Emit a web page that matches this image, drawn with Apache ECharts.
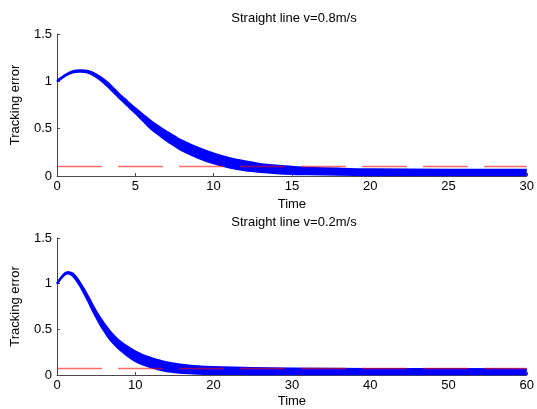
<!DOCTYPE html>
<html>
<head>
<meta charset="utf-8">
<script src="https://cdn.jsdelivr.net/npm/echarts@6/dist/echarts.min.js"></script>
<style>
html,body{margin:0;padding:0;background:#fff;}
#chart{width:537px;height:409px;}
</style>
</head>
<body>
<div id="chart"></div>
<script>
// ---- Data ----
var topTitle = "Straight line v=0.8m/s";
var bottomTitle = "Straight line v=0.2m/s";
var xName = "Time";
var yName = "Tracking error";

// Top panel: upper / lower envelope of the tracking-error band
var topTime  = [0, 0.5, 1, 1.5, 2, 2.5, 3, 3.5, 4, 4.5, 5, 5.5, 6, 6.5, 7, 7.5, 8, 9, 10, 11, 12, 13, 14, 15, 16, 18, 20, 25, 30];
var topUpper = [1.005, 1.065, 1.106, 1.118, 1.11, 1.074, 1.018, 0.946, 0.86, 0.788, 0.715, 0.648, 0.58, 0.524, 0.468, 0.42, 0.373, 0.298, 0.238, 0.19, 0.156, 0.128, 0.11, 0.098, 0.088, 0.078, 0.071, 0.067, 0.067];
var topLower = [0.995, 1.055, 1.094, 1.102, 1.09, 1.046, 0.982, 0.904, 0.82, 0.742, 0.665, 0.582, 0.50, 0.436, 0.372, 0.32, 0.268, 0.193, 0.133, 0.09, 0.06, 0.042, 0.03, 0.022, 0.018, 0.012, 0.009, 0.009, 0.009];
var topThreshold = 0.1;
var topXTicks = [0, 5, 10, 15, 20, 25, 30];

// Bottom panel
var botTime  = [0, 0.5, 1, 1.4, 2, 2.5, 3, 3.5, 4, 4.5, 5, 5.5, 6, 6.5, 7, 7.5, 8, 9, 10, 11, 12, 13, 14, 15, 16, 18, 20, 25, 30, 40, 60];
var botUpper = [1.005, 1.066, 1.113, 1.129, 1.113, 1.067, 1.005, 0.934, 0.858, 0.776, 0.699, 0.628, 0.566, 0.509, 0.455, 0.411, 0.373, 0.31, 0.258, 0.218, 0.188, 0.162, 0.14, 0.125, 0.112, 0.095, 0.087, 0.077, 0.071, 0.066, 0.063];
var botLower = [0.995, 1.054, 1.098, 1.111, 1.088, 1.034, 0.965, 0.887, 0.803, 0.714, 0.631, 0.553, 0.484, 0.421, 0.365, 0.319, 0.278, 0.21, 0.153, 0.113, 0.083, 0.059, 0.04, 0.03, 0.022, 0.015, 0.012, 0.009, 0.009, 0.008, 0.008];
var botThreshold = 0.07;
var botXTicks = [0, 10, 20, 30, 40, 50, 60];

var yTicks = [0, 0.5, 1, 1.5];

// ---- Styles ----
var FONT = 'Liberation Sans, Arial, sans-serif';
var BLUE = '#0000ff';
var RED = 'rgba(255,0,0,0.58)';
var AXIS = '#4a4a4a';

function xAxisCfg(gi, ticks, gap) {
  return {
    type: 'value', gridIndex: gi,
    min: ticks[0], max: ticks[ticks.length - 1], interval: ticks[1] - ticks[0],
    name: xName, nameLocation: 'middle', nameGap: gap,
    nameTextStyle: { fontFamily: FONT, fontSize: 13, color: '#000' },
    axisLine: { show: true, onZero: false, lineStyle: { color: AXIS, width: 1 } },
    axisTick: { show: true, inside: true, length: 3, lineStyle: { color: AXIS } },
    axisLabel: { fontFamily: FONT, fontSize: 13, color: '#000', margin: 4 },
    splitLine: { show: false }
  };
}
function yAxisCfg(gi) {
  return {
    type: 'value', gridIndex: gi,
    min: yTicks[0], max: yTicks[yTicks.length - 1], interval: yTicks[1] - yTicks[0],
    name: yName, nameLocation: 'middle', nameGap: 35, nameRotate: 90,
    nameTextStyle: { fontFamily: FONT, fontSize: 13, color: '#000' },
    axisLine: { show: true, onZero: false, lineStyle: { color: AXIS, width: 1 } },
    axisTick: { show: true, inside: true, length: 3, lineStyle: { color: AXIS } },
    axisLabel: { fontFamily: FONT, fontSize: 13, color: '#000', margin: 5 },
    splitLine: { show: false }
  };
}

// Band drawn as a closed smoothed polygon: upper envelope forward, lower envelope back.
function bandSeries(gi, xs, up, lo) {
  return {
    type: 'custom', xAxisIndex: gi, yAxisIndex: gi, silent: true, z: 3,
    data: [[xs[0], up[0]]],
    renderItem: function (params, api) {
      var upperPts = xs.map(function (x, i) { return api.coord([x, up[i]]); });
      var lowerPts = xs.map(function (x, i) { return api.coord([x, lo[i]]); });
      var cs = params.coordSys;
      var cons = [[cs.x, cs.y], [cs.x + cs.width, cs.y + cs.height]];
      return {
        type: 'group',
        children: [
          { type: 'polygon', shape: { points: upperPts.concat(lowerPts.slice().reverse()), smooth: 0.3, smoothConstraint: cons },
            style: { fill: BLUE, stroke: null } },
          { type: 'polyline', shape: { points: upperPts, smooth: 0.3, smoothConstraint: cons },
            style: { stroke: BLUE, lineWidth: 2, fill: null } },
          { type: 'polyline', shape: { points: lowerPts, smooth: 0.3, smoothConstraint: cons },
            style: { stroke: BLUE, lineWidth: 2, fill: null } }
        ]
      };
    }
  };
}
function thresholdSeries(gi, ticks, val) {
  return {
    type: 'line', xAxisIndex: gi, yAxisIndex: gi,
    data: [[ticks[0], val], [ticks[ticks.length - 1], val]],
    symbol: 'none', silent: true,
    lineStyle: { color: RED, width: 1.5, type: [45, 16] }, z: 5
  };
}

var chart = echarts.init(document.getElementById('chart'), null, { renderer: 'canvas' });
chart.setOption({
  animation: false,
  backgroundColor: '#fff',
  grid: [
    { left: 57, right: 6, top: 34, height: 142, containLabel: false },
    { left: 57, right: 6, top: 238, height: 140, containLabel: false }
  ],
  xAxis: [xAxisCfg(0, topXTicks, 22), xAxisCfg(1, botXTicks, 20)],
  yAxis: [yAxisCfg(0), yAxisCfg(1)],
  graphic: [
    { type: 'text', x: 294, y: 18, style: { text: topTitle, font: '13px ' + FONT, fill: '#000', textAlign: 'center', textVerticalAlign: 'middle' } },
    { type: 'text', x: 294, y: 222, style: { text: bottomTitle, font: '13px ' + FONT, fill: '#000', textAlign: 'center', textVerticalAlign: 'middle' } }
  ],
  series: [
    bandSeries(0, topTime, topUpper, topLower),
    thresholdSeries(0, topXTicks, topThreshold),
    bandSeries(1, botTime, botUpper, botLower),
    thresholdSeries(1, botXTicks, botThreshold)
  ]
});
</script>
</body>
</html>
